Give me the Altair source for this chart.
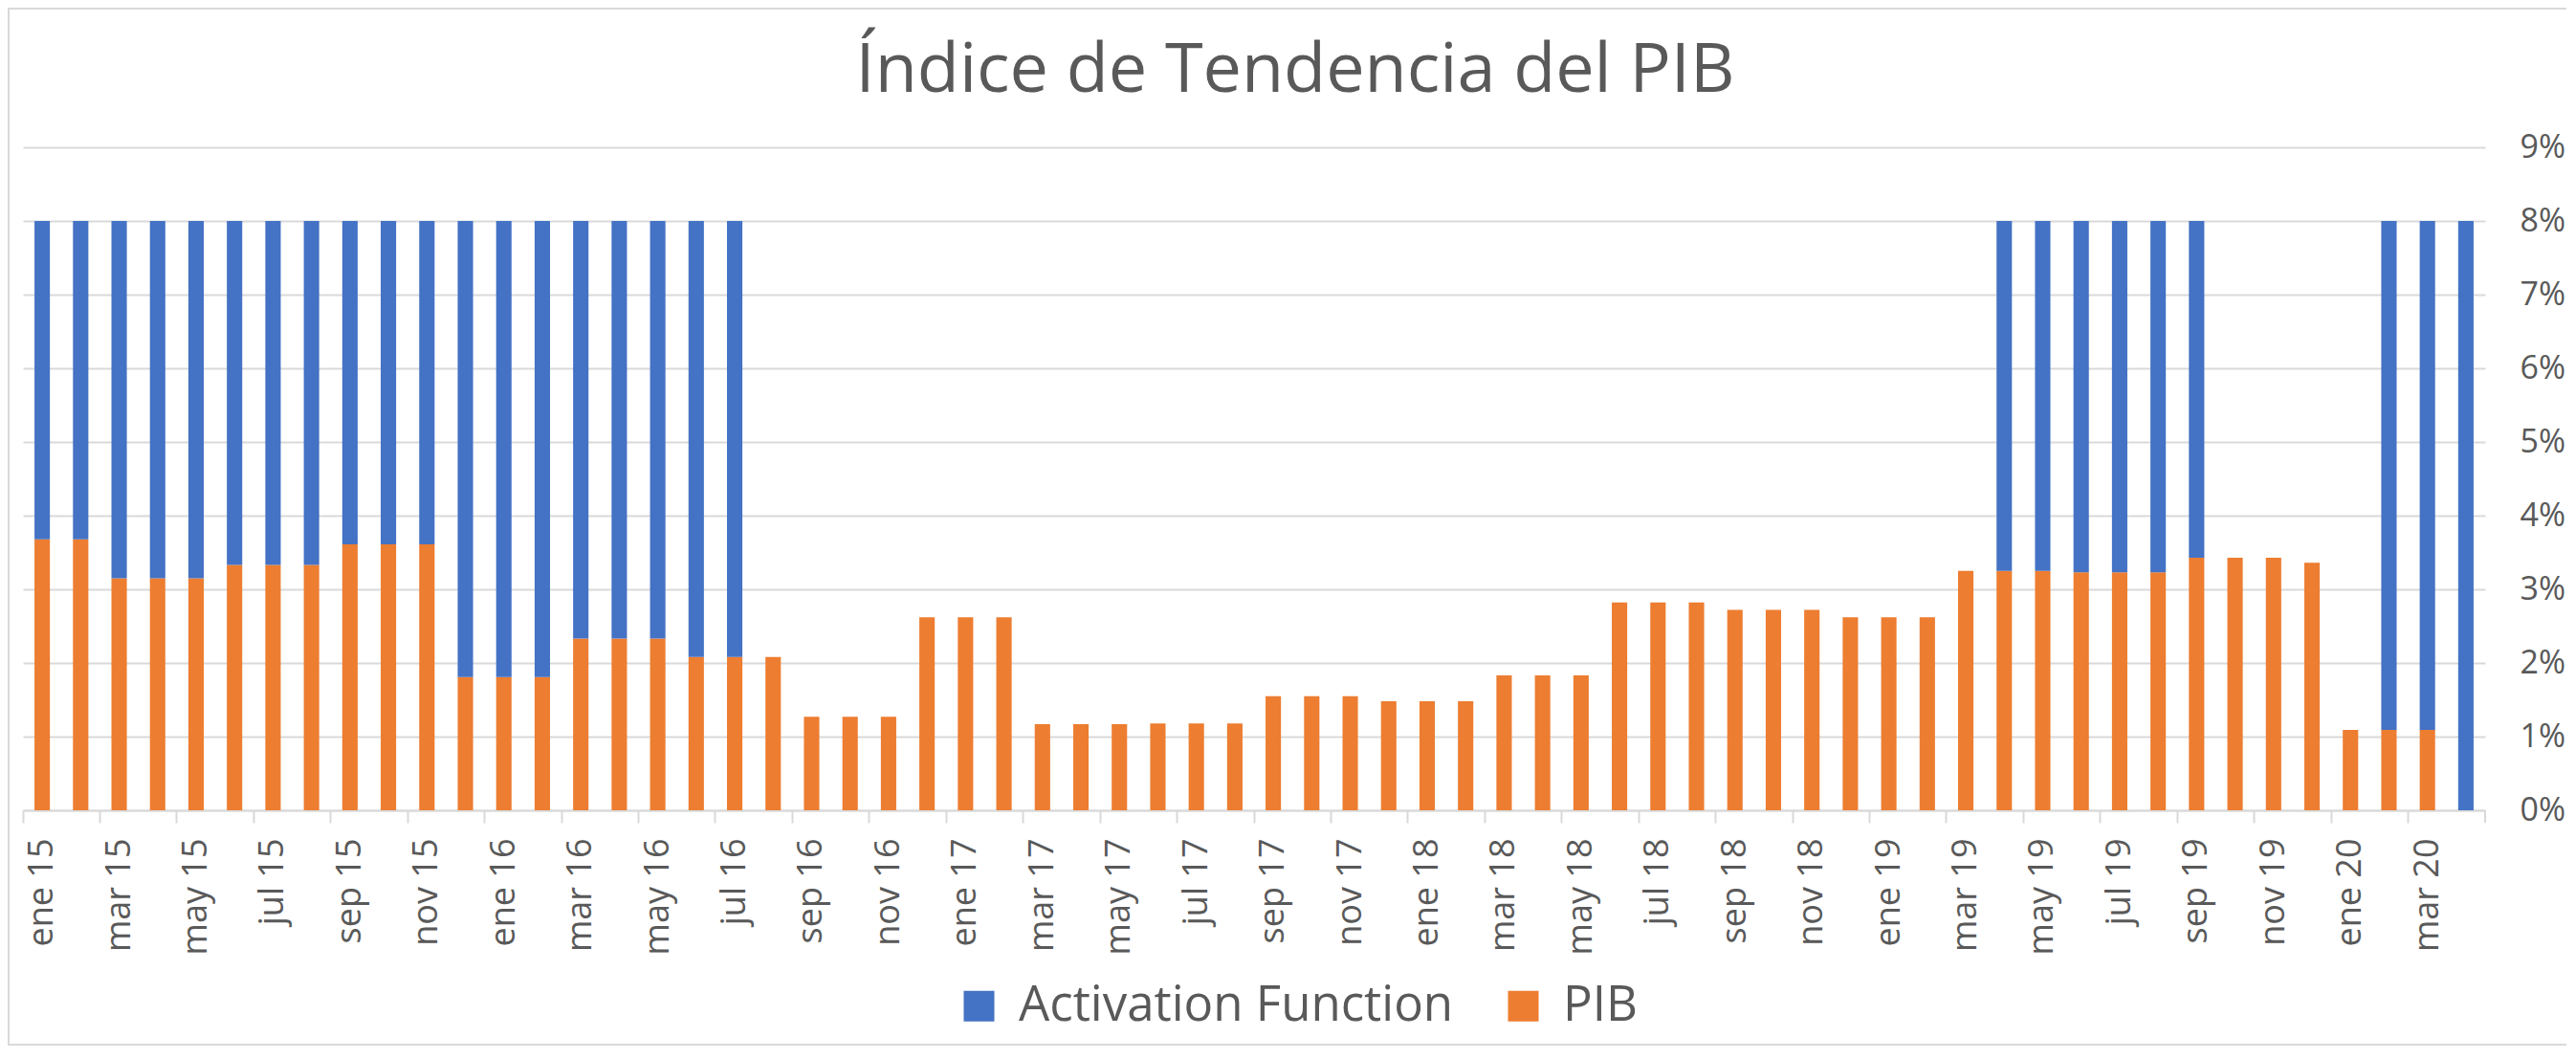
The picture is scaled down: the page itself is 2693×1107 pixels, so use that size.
import altair as alt
import pandas as pd

meses = ["ene", "feb", "mar", "abr", "may", "jun", "jul", "ago", "sep", "oct", "nov", "dic"]
anios = ["15", "16", "17", "18", "19", "20"]
periodos = [f"{m} {a}" for a in anios for m in meses][:64]

pib = [3.68, 3.68, 3.15, 3.15, 3.15, 3.33, 3.33, 3.33, 3.61, 3.61, 3.61, 1.81,
       1.81, 1.81, 2.33, 2.33, 2.33, 2.08, 2.08, 2.08, 1.27, 1.27, 1.27, 2.62,
       2.62, 2.62, 1.17, 1.17, 1.17, 1.18, 1.18, 1.18, 1.55, 1.55, 1.55, 1.48,
       1.48, 1.48, 1.83, 1.83, 1.83, 2.82, 2.82, 2.82, 2.72, 2.72, 2.72, 2.62,
       2.62, 2.62, 3.25, 3.25, 3.25, 3.23, 3.23, 3.23, 3.43, 3.43, 3.43, 3.36,
       1.09, 1.09, 1.09, 0.0]

activation = [4.32, 4.32, 4.85, 4.85, 4.85, 4.67, 4.67, 4.67, 4.39, 4.39, 4.39, 6.19,
              6.19, 6.19, 5.67, 5.67, 5.67, 5.92, 5.92, 0, 0, 0, 0, 0,
              0, 0, 0, 0, 0, 0, 0, 0, 0, 0, 0, 0,
              0, 0, 0, 0, 0, 0, 0, 0, 0, 0, 0, 0,
              0, 0, 0, 4.75, 4.75, 4.77, 4.77, 4.77, 4.57, 0, 0, 0,
              0, 6.91, 6.91, 8.0]

etiquetas = periodos[::2]
series = ["Activation Function", "PIB"]
colores = ["#4472C4", "#ED7D31"]
ticks_y = [0, 1, 2, 3, 4, 5, 6, 7, 8, 9]

rows = []
for i, p in enumerate(periodos):
    rows.append({"periodo": p, "serie": "PIB", "valor": pib[i], "orden": 0})
    rows.append({"periodo": p, "serie": "Activation Function", "valor": activation[i], "orden": 1})
df = pd.DataFrame(rows)

FONT = "Open Sans"
GRAY = "#595959"
LINE = "#d9d9d9"

bars = alt.Chart(df).mark_bar(width={"band": 0.4}).encode(
    x=alt.X(
        "periodo:N", sort=periodos, title=None,
        scale=alt.Scale(paddingInner=0, paddingOuter=0),
        axis=alt.Axis(
            values=etiquetas, labelAngle=-90, bandPosition=0,
            labelFontSize=36, labelFont=FONT, labelColor=GRAY,
            tickColor=LINE, tickSize=13, tickWidth=2, labelPadding=16,
            domainColor=LINE, domainWidth=2, grid=False,
        ),
    ),
    y=alt.Y(
        "valor:Q", stack="zero", title=None,
        scale=alt.Scale(domain=[0, 9], nice=False),
        axis=alt.Axis(
            orient="right", values=ticks_y, labelExpr="datum.value + '%'",
            domain=False, ticks=False, labelPadding=36, labelAlign="left",
            labelFontSize=34, labelFont=FONT, labelColor=GRAY,
            gridColor=LINE, gridWidth=2,
        ),
    ),
    color=alt.Color(
        "serie:N",
        scale=alt.Scale(domain=series, range=colores),
        legend=alt.Legend(
            title=None, orient="none", legendX=974, legendY=872,
            direction="horizontal", symbolType="square", symbolSize=1024,
            symbolStrokeWidth=0, labelFontSize=51, labelFont=FONT,
            labelColor=GRAY, labelOffset=16, columnPadding=47, padding=0,
            labelLimit=2000,
        ),
    ),
    order=alt.Order("orden:Q"),
)

end_tick = alt.Chart(pd.DataFrame({"t": [0]})).mark_rule(
    color=LINE, strokeWidth=2
).encode(x=alt.value(2574), y=alt.value(693), y2=alt.value(706))

border = alt.Chart(pd.DataFrame({"b": [0]})).mark_rect(
    fill="white", fillOpacity=0, stroke=LINE, strokeWidth=2
).encode(
    x=alt.value(-15), x2=alt.value(2673), y=alt.value(-145), y2=alt.value(938)
)

chart = alt.layer(bars, end_tick, border).properties(
    width=2574, height=693,
    title=alt.TitleParams(
        text="Índice de Tendencia del PIB", fontSize=72, font=FONT, color=GRAY,
        fontWeight="normal", anchor="middle", baseline="alphabetic",
        offset=0, dx=43, dy=160,
    ),
    autosize=alt.AutoSizeParams(type="none"),
    padding={"left": 16, "top": 146, "right": 85, "bottom": 246},
    background="white",
).configure_view(strokeWidth=0)

chart.save("out.html", embed_options={"renderer": "svg", "actions": False})
